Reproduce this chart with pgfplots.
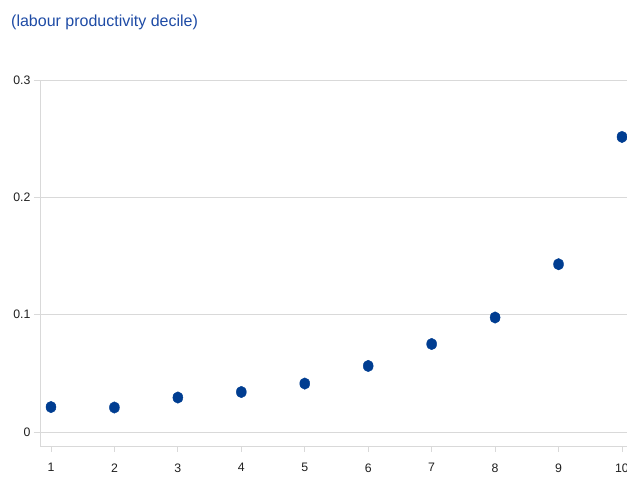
\documentclass[border=0pt]{standalone}
\usepackage{fontspec}
\setmainfont{Liberation Sans}
\usepackage{pgfplots}
\pgfplotsset{compat=1.18}
\definecolor{pt}{RGB}{0,61,145}
\definecolor{ttl}{RGB}{30,75,165}
\definecolor{grd}{RGB}{217,217,217}
\begin{document}
\begin{tikzpicture}[x=1pt,y=1pt]
\begin{axis}[
  at={(40pt,40pt)}, anchor=south west,
  scale only axis, width=587pt, height=366pt,
  xmin=0.827, xmax=10.079, ymin=-0.0119, ymax=0.3,
  axis lines=left, axis line style={-, draw=grd, line width=0.9pt},
  xtick={1,...,10}, ytick={0,0.1,0.2,0.3},
  yticklabels={0,0.1,0.2,0.3},
  /pgf/number format/assume math mode=true,
  tick align=outside, major tick length=6pt,
  tick style={draw=grd, line width=0.9pt},
  ymajorgrids, grid style={draw=grd, line width=0.9pt},
  ticklabel style={font=\fontsize{12.3}{14}\selectfont, text=black!88},
  xticklabel style={yshift=-8pt},
  clip=false,
]
\addplot[only marks, mark=*, mark size=5pt, color=pt, mark options={yscale=1.15}] coordinates {
(1,0.0213) (2,0.0209) (3,0.0294) (4,0.0341) (5,0.0413)
(6,0.0563) (7,0.0750) (8,0.0976) (9,0.1430) (10,0.2515)
};
\end{axis}
\node[anchor=base west, inner sep=0, text=ttl, font=\fontsize{16}{19}\selectfont] at (11pt,459.3pt) {(labour productivity decile)};
\pgfresetboundingbox
\path[use as bounding box] (0,0) rectangle (627pt,486pt);
\end{tikzpicture}
\end{document}
